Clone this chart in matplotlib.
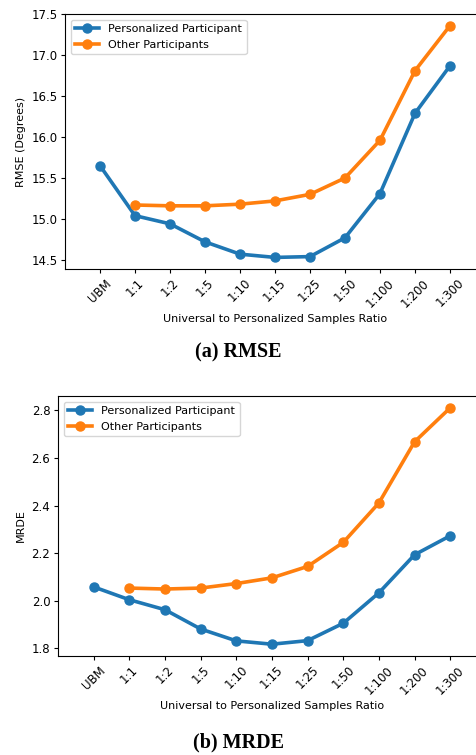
import matplotlib
matplotlib.use("Agg")
import matplotlib.pyplot as plt

ratios = ["UBM", "1:1", "1:2", "1:5", "1:10", "1:15", "1:25", "1:50", "1:100", "1:200", "1:300"]

# RMSE (degrees)
rmse_personal = [15.65, 15.04, 14.94, 14.72, 14.57, 14.53, 14.54, 14.77, 15.31, 16.29, 16.87]
rmse_other = [15.17, 15.16, 15.16, 15.18, 15.22, 15.30, 15.50, 15.96, 16.81, 17.36]

# MRDE
mrde_personal = [2.058, 2.004, 1.962, 1.881, 1.831, 1.817, 1.832, 1.905, 2.033, 2.193, 2.273]
mrde_other = [2.053, 2.049, 2.053, 2.072, 2.096, 2.144, 2.245, 2.411, 2.668, 2.811]

BLUE = "#1f77b4"
ORANGE = "#ff7f0e"


def draw_panel(ax, personal, other, ylabel):
    x = list(range(len(ratios)))
    ax.plot(x, personal, "-o", color=BLUE, lw=2.6, ms=6.5, label="Personalized Participant")
    ax.plot(x[1:], other, "-o", color=ORANGE, lw=2.6, ms=6.5, label="Other Participants")
    ax.set_xticks(x)
    ax.set_xticklabels(ratios, rotation=45, fontsize=8.5)
    ax.tick_params(axis="both", length=3, pad=2.5)
    ax.tick_params(axis="y", labelsize=8.5)
    ax.set_xlim(-1, 11)
    ax.set_ylabel(ylabel, fontsize=8)
    ax.set_xlabel("Universal to Personalized Samples Ratio", fontsize=8, labelpad=3)
    ax.legend(loc="upper left", fontsize=8, handlelength=2.2)


fig = plt.figure(figsize=(4.77, 7.55), dpi=100)

ax1 = fig.add_axes([0.1363, 0.6437, 0.8805, 0.3377])
draw_panel(ax1, rmse_personal, rmse_other, "RMSE (Degrees)")

ax2 = fig.add_axes([0.1216, 0.1311, 0.897, 0.3444])
draw_panel(ax2, mrde_personal, mrde_other, "MRDE")

fig.text(0.5, 1 - 352 / 755, "(a) RMSE", ha="center", va="center",
         fontsize=14.5, fontweight="bold", family="Liberation Serif")
fig.text(0.5, 1 - 742 / 755, "(b) MRDE", ha="center", va="center",
         fontsize=14.5, fontweight="bold", family="Liberation Serif")

fig.savefig("out.png", dpi=100)
